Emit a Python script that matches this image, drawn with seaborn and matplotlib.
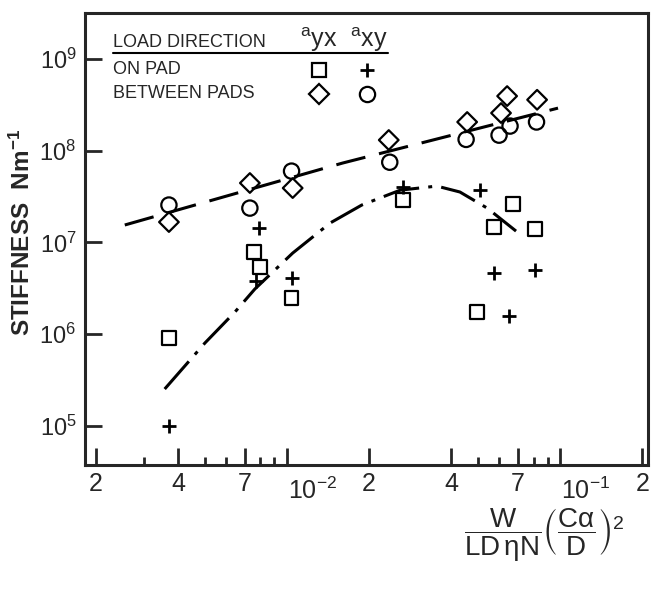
import numpy as np
import pandas as pd
import matplotlib
matplotlib.use("Agg")
import matplotlib.pyplot as plt
import matplotlib.transforms as mtransforms
from matplotlib.ticker import FixedLocator, NullFormatter, NullLocator
import seaborn as sns

# values
# a_yx, on pad (squares)
sq_x = [3.7e-3, 7.6e-3, 8.0e-3, 1.04e-2, 2.66e-2, 4.97e-2, 5.73e-2, 6.73e-2, 8.1e-2]
sq_y = [9.0e5, 7.9e6, 5.4e6, 2.5e6, 2.9e7, 1.74e6, 1.47e7, 2.62e7, 1.4e7]
# a_xy, on pad (plus)
plus_x = [3.7e-3, 7.7e-3, 7.9e-3, 1.04e-2, 2.66e-2, 5.09e-2, 5.73e-2, 6.5e-2, 8.1e-2]
plus_y = [1.0e5, 3.8e6, 1.45e7, 4.1e6, 4.0e7, 3.73e7, 4.64e6, 1.57e6, 5.0e6]
# a_yx, between pads (diamonds)
dia_x = [3.7e-3, 7.32e-3, 1.05e-2, 2.36e-2, 4.57e-2, 6.08e-2, 6.4e-2, 8.24e-2]
dia_y = [1.67e7, 4.45e7, 3.92e7, 1.31e8, 2.06e8, 2.58e8, 3.95e8, 3.6e8]
# a_xy, between pads (circles)
circ_x = [3.7e-3, 7.32e-3, 1.04e-2, 2.38e-2, 4.53e-2, 5.98e-2, 6.56e-2, 8.2e-2]
circ_y = [2.56e7, 2.37e7, 6.0e7, 7.5e7, 1.33e8, 1.48e8, 1.86e8, 2.06e8]

# trend curves
between_x = [2.55e-3, 1.6e-2, 9.83e-2]
between_y = [1.55e7, 7.35e7, 2.92e8]
onpad_x = [3.57e-3, 5.01e-3, 6.45e-3, 7.63e-3, 1.05e-2, 1.44e-2, 1.88e-2, 2.6e-2, 3.54e-2, 4.3e-2, 5.41e-2, 6.9e-2]
onpad_y = [2.52e5, 8.0e5, 1.74e6, 3.1e6, 7.66e6, 1.63e7, 2.56e7, 3.72e7, 4.12e7, 3.55e7, 2.37e7, 1.33e7]

x_major = [2e-3, 4e-3, 7e-3, 1e-2, 2e-2, 4e-2, 7e-2, 1e-1, 2e-1]
x_major_labels = ["2", "4", "7", r"$10^{-2}$", "2", "4", "7", r"$10^{-1}$", "2"]
x_minor = [3e-3, 5e-3, 6e-3, 8e-3, 9e-3, 5e-2, 6e-2, 8e-2, 9e-2]
y_major = [1e5, 1e6, 1e7, 1e8, 1e9]
y_major_labels = [r"$10^{5}$", r"$10^{6}$", r"$10^{7}$", r"$10^{8}$", r"$10^{9}$"]

sns.set_style("ticks")
plt.rcParams['font.family'] = ['Liberation Sans', 'DejaVu Sans']
plt.rcParams['mathtext.default'] = 'regular'

fig = plt.figure(figsize=(6.52, 6.06), dpi=100)
ax = fig.add_axes([0.130, 0.2327, 0.864, 0.7458])
ax.set_xscale('log')
ax.set_yscale('log')

lw = 2.2
sns.lineplot(x=between_x, y=between_y, ax=ax, color='k', lw=lw,
             linestyle=(0, (9.8, 4.6)), estimator=None, sort=False, legend=False)
sns.lineplot(x=onpad_x, y=onpad_y, ax=ax, color='k', lw=lw,
             linestyle=(0, (12, 3, 1.3, 3)), estimator=None, sort=False, legend=False)

sns.scatterplot(x=sq_x, y=sq_y, ax=ax, marker='s', s=100, facecolor='none',
                edgecolor='k', linewidths=1.6, legend=False, zorder=3)
sns.scatterplot(x=dia_x, y=dia_y, ax=ax, marker='D', s=100, facecolor='none',
                edgecolor='k', linewidths=1.6, legend=False, zorder=3)
sns.scatterplot(x=circ_x, y=circ_y, ax=ax, marker='o', s=121, facecolor='none',
                edgecolor='k', linewidths=1.6, legend=False, zorder=3)
sns.scatterplot(x=plus_x, y=plus_y, ax=ax, marker='+', s=110, color='k',
                linewidths=2.0, legend=False, zorder=3)

ax.set_xlim(1.82e-3, 0.21)
ax.set_ylim(3.74e4, 3.18e9)

ax.xaxis.set_major_locator(FixedLocator(x_major))
ax.xaxis.set_minor_locator(FixedLocator(x_minor))
ax.xaxis.set_minor_formatter(NullFormatter())
ax.set_xticklabels(x_major_labels)
ax.yaxis.set_major_locator(FixedLocator(y_major))
ax.yaxis.set_minor_locator(NullLocator())
ax.set_yticklabels(y_major_labels)

ax.tick_params(which='major', direction='in', length=12, width=2.0, labelsize=18, pad=5)
ax.tick_params(which='minor', direction='in', length=6, width=2.0)
ax.tick_params(axis='y', pad=6, labelsize=17)
for s in ax.spines.values():
    s.set_linewidth(2.2)
    s.set_visible(True)

# decade labels sit to the right of their tick and a little lower
shift = mtransforms.ScaledTranslation(1 / 72, -4 / 72, fig.dpi_scale_trans)
for lab in ax.get_xticklabels():
    if "10" in lab.get_text():
        lab.set_ha('left')
        lab.set_transform(lab.get_transform() + shift)

ax.set_xlabel("")
ax.set_ylabel("")
fig.text(0.034, 0.617, r"STIFFNESS  Nm$^{-1}$", rotation=90, ha='center', va='center',
         fontsize=17.5, fontweight='bold')
fig.text(0.835, 0.118, r"$\dfrac{W}{LD\,\eta N}\left(\dfrac{C\alpha}{D}\right)^{2}$",
         ha='center', va='center', fontsize=20)

# legend table
tr = ax.transAxes
ax.text(0.0497, 0.925, "LOAD DIRECTION", transform=tr, fontsize=13, va='baseline')
ax.text(0.415, 0.925, r"$^{a}$yx", transform=tr, fontsize=18, va='baseline', ha='center')
ax.text(0.505, 0.925, r"$^{a}$xy", transform=tr, fontsize=18, va='baseline', ha='center')
ax.plot([0.0497, 0.538], [0.9115, 0.9115], transform=tr, color='k', lw=1.5)
ax.text(0.0497, 0.876, "ON PAD", transform=tr, fontsize=13, va='center')
ax.text(0.0497, 0.821, "BETWEEN PADS", transform=tr, fontsize=13, va='center')
ax.plot([0.4156], [0.874], transform=tr, marker='s', ms=10, mfc='none', mec='k', mew=1.6, ls='')
ax.plot([0.5009], [0.874], transform=tr, marker='+', ms=10.5, mec='k', mew=2.0, ls='')
ax.plot([0.4156], [0.821], transform=tr, marker='D', ms=10, mfc='none', mec='k', mew=1.6, ls='')
ax.plot([0.5009], [0.821], transform=tr, marker='o', ms=11, mfc='none', mec='k', mew=1.6, ls='')

fig.savefig("out.png", dpi=100, facecolor='white')
